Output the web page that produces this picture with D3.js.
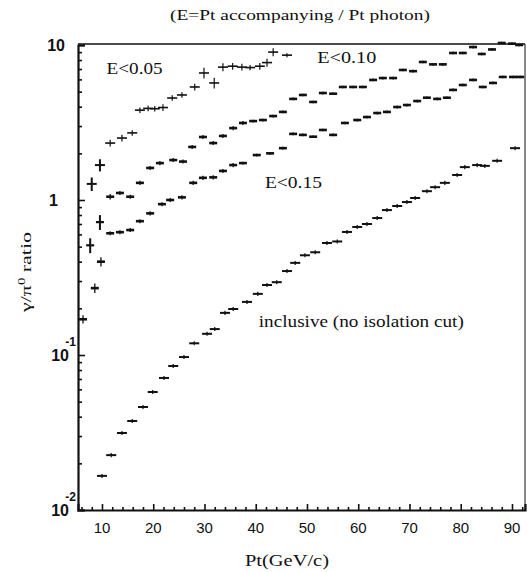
<!DOCTYPE html>
<html><head><meta charset="utf-8">
<script src="https://cdn.jsdelivr.net/npm/d3@7"></script>
<style>body{margin:0;background:#fff}svg{display:block}</style>
</head><body>
<svg id="c" width="527" height="572"></svg>
<script>
// ---------- data ----------
const xTickValues = [10,20,30,40,50,60,70,80,90];
const yTickValues = [0.01,0.1,1,10];
const yTickBase = ["10","10","1","10"];
const yTickExp = ["-2","-1","",""];
const titleText = "(E=Pt accompanying / Pt photon)";
const xLabelText = "Pt(GeV/c)";
const seriesNames = ["E<0.05","E<0.10","E<0.15","inclusive (no isolation cut)"];

const e05X = [8.0, 9.6, 11.6, 13.9, 15.9, 17.4, 19.0, 20.3, 21.9, 23.7, 25.6, 28.1, 29.9, 31.9, 33.6, 35.5, 37.3, 38.9, 40.8, 42.2, 43.4, 46.1];
const e05Y = [1.27, 1.68, 2.33, 2.51, 2.71, 3.80, 3.90, 3.88, 3.95, 4.55, 4.76, 5.36, 6.60, 5.69, 7.20, 7.30, 7.20, 7.15, 7.30, 7.70, 9.00, 8.60];
const e05Err = [0.10, 0.09, 0.05, 0.05, 0.04, 0.04, 0.04, 0.04, 0.05, 0.04, 0.04, 0.05, 0.08, 0.08, 0.06, 0.05, 0.05, 0.04, 0.05, 0.06, 0.06, 0.03];

const e10X = [7.7, 9.6, 11.6, 13.5, 15.5, 17.4, 19.4, 21.3, 23.9, 25.8, 27.6, 29.7, 31.7, 33.6, 35.6, 37.5, 39.5, 41.4, 43.4, 45.3, 47.3, 49.2, 51.2, 53.1, 55.1, 57.0, 59.0, 60.9, 62.9, 64.8, 66.8, 68.7, 70.7, 72.6, 74.6, 76.5, 78.5, 80.4, 82.4, 84.1, 86.1, 88.0, 90.0, 91.4];
const e10Y = [0.51, 0.72, 1.05, 1.11, 1.05, 1.29, 1.61, 1.73, 1.81, 1.77, 2.20, 2.55, 2.33, 2.59, 2.91, 3.14, 3.23, 3.28, 3.48, 3.70, 4.49, 4.76, 4.29, 4.90, 4.85, 5.36, 5.36, 5.36, 5.95, 6.12, 6.12, 6.90, 6.78, 7.77, 7.50, 7.50, 8.88, 8.88, 9.70, 8.75, 9.36, 10.3, 10.2, 10.0];
const e10Err = [0.11, 0.11, 0.04, 0.03, 0.03, 0.03, 0.03, 0.03, 0.03, 0.03, 0.03, 0.03, 0.03, 0.03, 0.03, 0.03, 0.02, 0.02, 0.02, 0.02, 0.02, 0.02, 0.02, 0.02, 0.02, 0.02, 0.02, 0.02, 0.02, 0.02, 0.02, 0.02, 0.02, 0.02, 0.02, 0.02, 0.02, 0.02, 0.02, 0.02, 0.02, 0.02, 0.02, 0.02];

const e15X = [6.3, 8.6, 9.8, 11.6, 13.5, 15.5, 17.4, 19.4, 21.7, 23.3, 25.6, 27.8, 29.7, 31.7, 33.6, 35.6, 37.5, 40.2, 42.8, 45.3, 47.3, 49.2, 51.2, 53.1, 55.1, 57.4, 59.8, 61.7, 63.7, 65.6, 67.6, 69.5, 71.5, 73.4, 75.4, 77.3, 78.5, 80.4, 82.4, 84.3, 86.3, 88.2, 90.2, 91.6];
const e15Y = [0.17, 0.27, 0.40, 0.61, 0.62, 0.64, 0.73, 0.82, 0.94, 1.00, 1.04, 1.29, 1.39, 1.40, 1.54, 1.68, 1.73, 1.95, 2.00, 2.16, 2.67, 2.63, 2.56, 2.83, 2.63, 3.14, 3.28, 3.43, 3.64, 3.70, 3.98, 4.10, 4.35, 4.57, 4.49, 4.57, 5.13, 5.52, 5.95, 5.36, 5.69, 6.22, 6.22, 6.22];
const e15Err = [0.06, 0.07, 0.07, 0.03, 0.03, 0.03, 0.03, 0.03, 0.03, 0.03, 0.03, 0.03, 0.03, 0.03, 0.03, 0.03, 0.02, 0.02, 0.02, 0.02, 0.02, 0.02, 0.02, 0.02, 0.02, 0.02, 0.02, 0.02, 0.02, 0.02, 0.02, 0.02, 0.02, 0.02, 0.02, 0.02, 0.02, 0.02, 0.02, 0.02, 0.02, 0.02, 0.02, 0.02];

const incX = [10.0, 11.8, 13.9, 15.9, 18.0, 19.9, 22.1, 23.9, 26.0, 28.0, 30.5, 32.0, 34.0, 35.6, 38.3, 40.4, 42.2, 44.1, 46.1, 47.7, 49.6, 51.6, 53.9, 55.9, 57.8, 59.8, 61.7, 63.7, 65.6, 67.6, 69.5, 71.1, 73.4, 75.0, 76.9, 79.3, 80.8, 83.2, 84.7, 87.1, 90.6];
const incY = [0.0166, 0.0226, 0.0314, 0.0375, 0.0462, 0.0577, 0.0711, 0.0849, 0.097, 0.119, 0.137, 0.147, 0.187, 0.198, 0.22, 0.248, 0.283, 0.295, 0.348, 0.393, 0.44, 0.46, 0.528, 0.54, 0.622, 0.67, 0.70, 0.765, 0.861, 0.915, 0.97, 1.03, 1.14, 1.21, 1.29, 1.45, 1.63, 1.68, 1.66, 1.79, 2.16];
const incErr = [0.03, 0.03, 0.03, 0.03, 0.03, 0.03, 0.03, 0.03, 0.03, 0.03, 0.03, 0.03, 0.03, 0.03, 0.03, 0.03, 0.03, 0.03, 0.03, 0.03, 0.03, 0.03, 0.03, 0.03, 0.03, 0.03, 0.03, 0.03, 0.03, 0.03, 0.03, 0.03, 0.03, 0.03, 0.03, 0.03, 0.03, 0.03, 0.03, 0.03, 0.03];

// ---------- drawing ----------
const svg = d3.select("#c");
const x = d3.scaleLinear().domain([5.32, 92.54]).range([78, 525]);
const y = d3.scaleLog().domain([0.01, 10]).range([510, 45]);
const ink = "#111";
const serif = "'Liberation Serif','Times New Roman',serif";
const sans = "'Liberation Sans',Arial,sans-serif";

// frame
svg.append("line").attr("x1",78).attr("x2",525).attr("y1",44).attr("y2",44).attr("stroke",ink).attr("stroke-width",1.5);
svg.append("line").attr("x1",525).attr("x2",525).attr("y1",44).attr("y2",510).attr("stroke",ink).attr("stroke-width",1);

// left axis: major and minor ticks pointing inward
const minorY = [];
[0.01,0.1,1].forEach(d => { for (let k=2;k<=9;k++) minorY.push(d*k); });
const gL = svg.append("g").attr("transform","translate(78,0)");
gL.call(d3.axisRight(y).tickValues(yTickValues).tickSize(7).tickFormat(""));
gL.append("g").call(d3.axisRight(y).tickValues(minorY).tickSize(4).tickFormat(""));
gL.selectAll("path.domain").attr("stroke",ink).attr("stroke-width",2.2);
gL.selectAll(".tick line").attr("stroke",ink).attr("stroke-width",1.6);
gL.selectAll("g > g > path.domain").remove();

// bottom axis: ticks pointing up (inward)
const minorX = d3.range(6, 93, 2).filter(v => v % 10 !== 0);
const gB = svg.append("g").attr("transform","translate(0,510)");
gB.call(d3.axisTop(x).tickValues(xTickValues).tickSize(6).tickFormat(""));
gB.append("g").call(d3.axisTop(x).tickValues(minorX).tickSize(3).tickFormat(""));
gB.selectAll("path.domain").attr("stroke",ink).attr("stroke-width",2.2);
gB.selectAll(".tick line").attr("stroke",ink).attr("stroke-width",1.6);
gB.selectAll("g > g > path.domain").remove();

// x tick labels
svg.append("g").selectAll("text").data(xTickValues).join("text")
  .attr("x", d => x(d)).attr("y", 533).attr("text-anchor","middle")
  .attr("font-family", sans).attr("font-size", 15).attr("fill", ink)
  .text(d => d);

// y tick labels with exponents
const yl = svg.append("g");
yTickValues.forEach((v,i) => {
  const py = y(v);
  const isExp = yTickExp[i] !== "";
  yl.append("text").attr("x", yTickBase[i]==="1" ? 58 : (isExp ? 69 : 65)).attr("y", py + 6)
    .attr("text-anchor","end").attr("font-family", sans).attr("font-weight","bold")
    .attr("font-size", 16).attr("fill", ink).text(yTickBase[i]);
  if (isExp) {
    yl.append("text").attr("x", 76).attr("y", py - 9)
      .attr("text-anchor","end").attr("font-family", sans).attr("font-weight","bold")
      .attr("font-size", 12).attr("fill", ink).text(yTickExp[i]);
  }
});

// title, axis labels
svg.append("text").attr("x",300).attr("y",20).attr("text-anchor","middle")
  .attr("font-family",serif).attr("font-size",15).attr("fill",ink)
  .attr("textLength",260).attr("lengthAdjust","spacingAndGlyphs").text(titleText);
svg.append("text").attr("x",287).attr("y",566).attr("text-anchor","middle")
  .attr("font-family",serif).attr("font-size",16).attr("fill",ink)
  .attr("textLength",84).attr("lengthAdjust","spacingAndGlyphs").text(xLabelText);
const yLab = svg.append("text").attr("transform","translate(31,272) rotate(-90)")
  .attr("text-anchor","middle").attr("font-family",serif).attr("font-size",15).attr("fill",ink)
  .attr("textLength",80).attr("lengthAdjust","spacingAndGlyphs");
yLab.append("tspan").text("γ/π");
yLab.append("tspan").attr("dy",-6).attr("font-size",10).text("0");
yLab.append("tspan").attr("dy",6).text(" ratio");

// annotations
const ann = [
  {t: seriesNames[0], px: x(10.9), py: y(6.5), w: 56},
  {t: seriesNames[1], px: x(52.0), py: y(7.7), w: 59},
  {t: seriesNames[2], px: x(41.8), py: y(1.2), w: 57},
  {t: seriesNames[3], px: x(40.6), py: y(0.151), w: 205}
];
svg.append("g").selectAll("text").data(ann).join("text")
  .attr("x", d => d.px).attr("y", d => d.py)
  .attr("font-family", serif).attr("font-size", 16).attr("fill", ink)
  .attr("textLength", d => d.w).attr("lengthAdjust","spacingAndGlyphs")
  .text(d => d.t);

// data marks
function drawSeries(xs, ys, es, opt) {
  const g = svg.append("g");
  const pts = xs.map((v,i) => ({x:v, y:ys[i], e:es[i], i}));
  g.selectAll("line.h").data(pts).join("line").attr("class","h")
    .attr("x1", d => x(d.x) - opt.hw).attr("x2", d => x(d.x) + opt.hw)
    .attr("y1", d => y(d.y)).attr("y2", d => y(d.y))
    .attr("stroke", ink).attr("stroke-width", d => d.e >= 0.09 ? opt.hsBig : opt.hs);
  g.selectAll("line.v").data(pts).join("line").attr("class","v")
    .attr("x1", d => x(d.x)).attr("x2", d => x(d.x))
    .attr("y1", d => y(d.y * (1 + d.e))).attr("y2", d => y(d.y * (1 - d.e)))
    .attr("stroke", ink).attr("stroke-width", d => d.e >= 0.09 ? 2 : opt.vs);
}
drawSeries(e05X, e05Y, e05Err, {hw:5, hs:1.6, hsBig:2, vs:1.2});
drawSeries(e10X, e10Y, e10Err, {hw:4, hs:2.6, hsBig:2.2, vs:1.3});
drawSeries(e15X, e15Y, e15Err, {hw:4, hs:2.6, hsBig:1.4, vs:1.3});
drawSeries(incX, incY, incErr, {hw:5, hs:2, hsBig:2, vs:1.2});
</script>
</body></html>
